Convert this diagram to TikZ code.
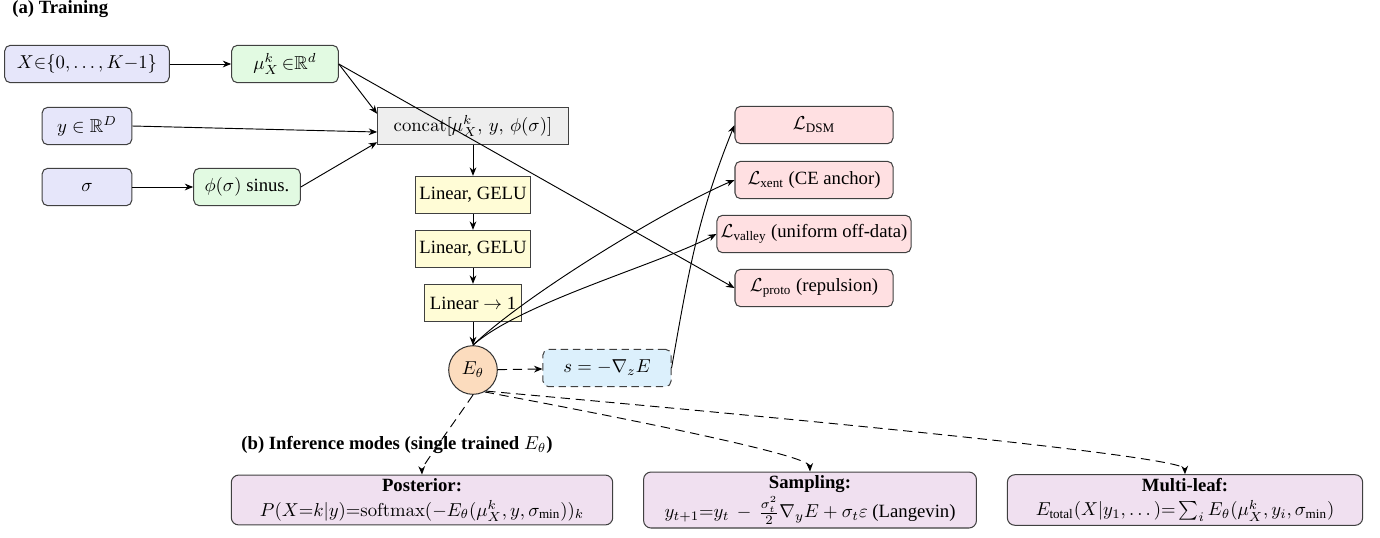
\documentclass[tikz,border=0pt]{standalone}
\usepackage{amsmath,amssymb}
\usepackage[no-math]{fontspec}
\setmainfont{Liberation Serif}
\usetikzlibrary{arrows.meta,calc}
\definecolor{inblue}{RGB}{230,230,250}
\definecolor{embgreen}{RGB}{226,250,226}
\definecolor{catgray}{RGB}{238,238,238}
\definecolor{linyellow}{RGB}{255,252,214}
\definecolor{energyorange}{RGB}{252,220,190}
\definecolor{scoreblue}{RGB}{220,240,252}
\definecolor{losspink}{RGB}{255,224,226}
\definecolor{infpurple}{RGB}{240,224,240}
\begin{document}
\begin{tikzpicture}[x=0.5348pt,y=-0.5348pt,
  base/.style={draw=black!75, line width=0.55pt, inner sep=2pt, minimum height=20pt},
  inbox/.style={base, rounded corners=3pt, fill=inblue},
  embbox/.style={base, rounded corners=3pt, fill=embgreen},
  catbox/.style={base, fill=catgray},
  linbox/.style={base, fill=linyellow, minimum width=60pt},
  lossbox/.style={base, rounded corners=3pt, fill=losspink, minimum width=84.5pt},
  scorebox/.style={base, rounded corners=3pt, fill=scoreblue, dash pattern=on 4pt off 2.5pt},
  energy/.style={circle, draw=black!80, line width=0.55pt, fill=energyorange, minimum size=26pt, inner sep=0pt},
  infbox/.style={base, rounded corners=4pt, fill=infpurple, align=center},
  arr/.style={-{Stealth[length=4.5pt,width=3.6pt]}, line width=0.5pt},
  darr/.style={arr, dash pattern=on 5pt off 3pt}]
\useasboundingbox (0,0) rectangle (1380,537);

\node[font=\bfseries, anchor=west, inner sep=0pt] (ta) at (12,9) {(a) Training};
\node[inbox, minimum width=88pt] (X) at (87,64) {$X{\in}\{0,\dots,K{-}1\}$};
\node[embbox, minimum width=57pt] (mu) at (285,64) {$\mu_X^k\,{\in}\mathbb{R}^d$};
\node[inbox, minimum width=48pt] (yb) at (87,126) {$y\in\mathbb{R}^D$};
\node[inbox, minimum width=48pt] (sig) at (87,187) {$\sigma$};
\node[embbox, minimum width=57pt] (phi) at (247,187) {$\phi(\sigma)$ sinus.};
\node[catbox, minimum width=102pt] (cat) at (473,126) {$\mathrm{concat}[\mu_X^k,\, y,\, \phi(\sigma)]$};
\node[linbox] (l1) at (473,195) {Linear, GELU};
\node[linbox] (l2) at (473,249) {Linear, GELU};
\node[linbox, minimum width=52pt] (l3) at (473,303) {Linear $\to$ 1};
\node[energy] (E) at (473,370) {$E_\theta$};
\node[scorebox, minimum width=68.5pt] (s) at (607,368) {$s=-\nabla_z E$};
\node[lossbox] (ldsm) at (814,125) {$\mathcal{L}_{\text{DSM}}$};
\node[lossbox] (lxent) at (814,180) {$\mathcal{L}_{\text{xent}}$ (CE anchor)};
\node[lossbox] (lval) at (814,234) {$\mathcal{L}_{\text{valley}}$ (uniform off-data)};
\node[lossbox] (lproto) at (814,288) {$\mathcal{L}_{\text{proto}}$ (repulsion)};

\node[font=\bfseries, anchor=west, inner sep=0pt] (tb) at (241,445) {(b) Inference modes (single trained $E_\theta$)};
\node[infbox, minimum width=204pt, minimum height=25pt] (post) at (422,500) {\textbf{Posterior:}\\[1pt] $P(X{=}k|y){=}\mathrm{softmax}(-E_\theta(\mu_X^k, y, \sigma_{\text{min}}))_k$};
\node[infbox, minimum width=178pt, minimum height=28pt] (samp) at (810,500) {\textbf{Sampling:}\\[1pt] $y_{t+1}{=}y_t\,-\,\frac{\sigma_t^2}{2}\nabla_y E+\sigma_t\varepsilon$ (Langevin)};
\node[infbox, minimum width=190pt, minimum height=26pt] (multi) at (1185,500) {\textbf{Multi-leaf:}\\[1pt] $E_{\text{total}}(X|y_1,\dots){=}\sum_i E_\theta(\mu_X^k, y_i, \sigma_{\text{min}})$};

\draw[arr] (X) -- (mu);
\draw[arr] (sig) -- (phi);
\draw[arr] (mu.east) -- ($(cat.north west)+(0,7)$);
\draw[arr] (yb.east) -- ($(cat.west)+(0,6)$);
\draw[arr] (phi.east) -- ($(cat.south west)+(0,-3)$);
\draw[arr] (mu.east) -- (lproto.west);
\draw[arr] (cat) -- (l1);
\draw[arr] (l1) -- (l2);
\draw[arr] (l2) -- (l3);
\draw[arr] (l3) -- (E);
\draw[arr] (E.north) to[out=44,in=203,looseness=0.6] (lxent.west);
\draw[arr] (E.north) to[out=42,in=208,looseness=0.6] (lval.west);
\draw[darr] (E) -- (s);
\draw[arr] (s.east) to[out=80,in=248] (ldsm.west);
\draw[darr] (E.south) to[out=238,in=92,looseness=0.2] (post.north);
\draw[darr] (E.-62) to[out=-11,in=92,looseness=0.15] (samp.north);
\draw[darr] (E.-58) to[out=-6,in=92,looseness=0.08] (multi.north);
\end{tikzpicture}
\end{document}
